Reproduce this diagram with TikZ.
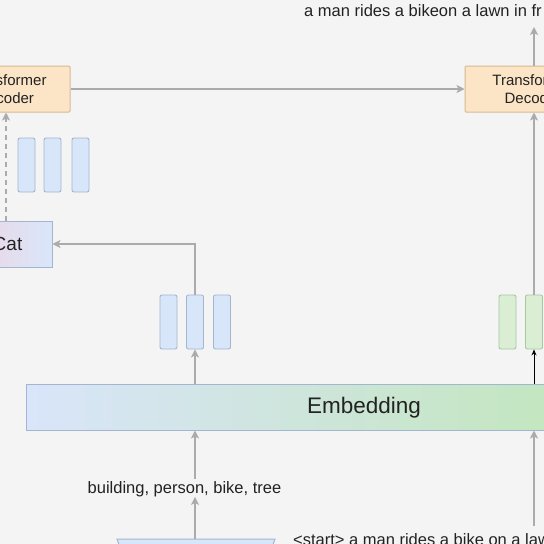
\documentclass[tikz,border=0pt]{standalone}
\usepackage{fontspec}
\setmainfont{Liberation Sans}
\usetikzlibrary{arrows.meta}
\definecolor{bg}{HTML}{F4F4F4}
\definecolor{lnc}{HTML}{ABABAB}
\definecolor{orfill}{HTML}{FCE5C7}
\definecolor{ordraw}{HTML}{D6B98F}
\definecolor{bfill}{HTML}{D8E6FA}
\definecolor{bdraw}{HTML}{A3B5CF}
\definecolor{gfill}{HTML}{DAEED4}
\definecolor{gdraw}{HTML}{A7C6A2}
\definecolor{pinkl}{HTML}{F8D0DA}
\definecolor{embl}{HTML}{D9E5FA}
\definecolor{embr}{HTML}{BDE6AE}
\definecolor{txt}{HTML}{222222}
\begin{document}
\begin{tikzpicture}[x=1pt,y=-1pt,
  arr/.style={draw=lnc, line width=1.8pt, -{Stealth[length=8pt,width=8pt,inset=2pt]}},
  blackarr/.style={draw=black, line width=0.8pt, -{Stealth[length=6pt,width=5pt]}},
  tbox/.style={draw=ordraw, fill=orfill, line width=1pt, minimum height=46pt,
    align=center, font=\fontsize{15}{18}\selectfont, text=txt, inner sep=0pt, rounded corners=1pt},
  bbar/.style={draw=bdraw, fill=bfill, line width=0.9pt, minimum width=17pt, minimum height=54pt,
    inner sep=0pt, rounded corners=2pt},
  gbar/.style={draw=gdraw, fill=gfill, line width=0.9pt, minimum width=17pt, minimum height=54pt,
    inner sep=0pt, rounded corners=2pt},
  lbl/.style={font=\fontsize{16.5}{20}\selectfont, text=txt, inner sep=0pt}
]
\fill[bg] (0,0) rectangle (544,544);
\useasboundingbox (0,0) rectangle (544,544);
\clip (0,0) rectangle (544,544);

% Transformer boxes
\node[tbox, minimum width=128pt] (enc) at (6,89) {Transformer\\Encoder};
\node[tbox, minimum width=136pt] (dec) at (533,89) {Transformer\\Decoder};

% Concat box
\node[draw=bdraw, line width=1pt, left color=pinkl, right color=bfill, minimum width=118pt,
  minimum height=46pt, inner sep=0pt] (cat) at (-7,244) {};
\node[font=\fontsize{19}{22}\selectfont, text=txt, inner sep=0pt, anchor=east] (catt) at (22.5,244) {Cat};

% top-left bars
\node[bbar] (t1) at (26.5,165) {};
\node[bbar] (t2) at (52.5,165) {};
\node[bbar] (t3) at (80.5,165) {};

% middle bars
\node[bbar] (m1) at (168.5,322) {};
\node[bbar] (m2) at (195,322) {};
\node[bbar] (m3) at (222,322) {};

% green bars
\node[gbar] (g1) at (507.5,322) {};
\node[gbar] (g2) at (534,322) {};
\node[gbar] (g3) at (560,322) {};

% Embedding
\node[draw=bdraw, line width=1pt, left color=embl, right color=embr, minimum width=676pt,
  minimum height=46pt, inner sep=0pt] (emb) at (364,407) {};
\node[font=\fontsize{22.5}{26}\selectfont, text=txt, inner sep=0pt] (embt) at (364,408) {Embedding};

% labels
\node[lbl] (objs) at (184.5,489) {building, person, bike, tree};
\node[lbl, anchor=west] (start) at (293,540) {<start> a man rides a bike on a lawn};
\node[lbl, anchor=west] (out) at (304,11) {a man rides a bikeon a lawn in fr};

% detector (trapezoid)
\coordinate (det) at (195,539);
\draw[draw=bdraw, fill=bfill, line width=1pt] (117,539) -- (275,539) -- (262,575) -- (130,575) -- cycle;

% connectors
\draw[arr] (enc.east) -- (dec.west);
\draw[arr, dashed, dash pattern=on 5pt off 4pt] (6,221) -- (6,112.5);
\draw[arr] (m2 |- emb.north) -- (m2.south);
\draw[arr] (m2.north) |- (cat.east);
\draw[arr] (m2 |- objs.north) ++(0,-2) -- (m2 |- emb.south);
\draw[arr] (det) -- (m2 |- objs.south);
\draw[blackarr] (g2 |- emb.north) -- (g2.south);
\draw[arr] (g2.north) -- (g2 |- dec.south);
\draw[arr] (g2 |- dec.north) -- (534,27);
\draw[arr] (534,526) -- (g2 |- emb.south);
\end{tikzpicture}
\end{document}
